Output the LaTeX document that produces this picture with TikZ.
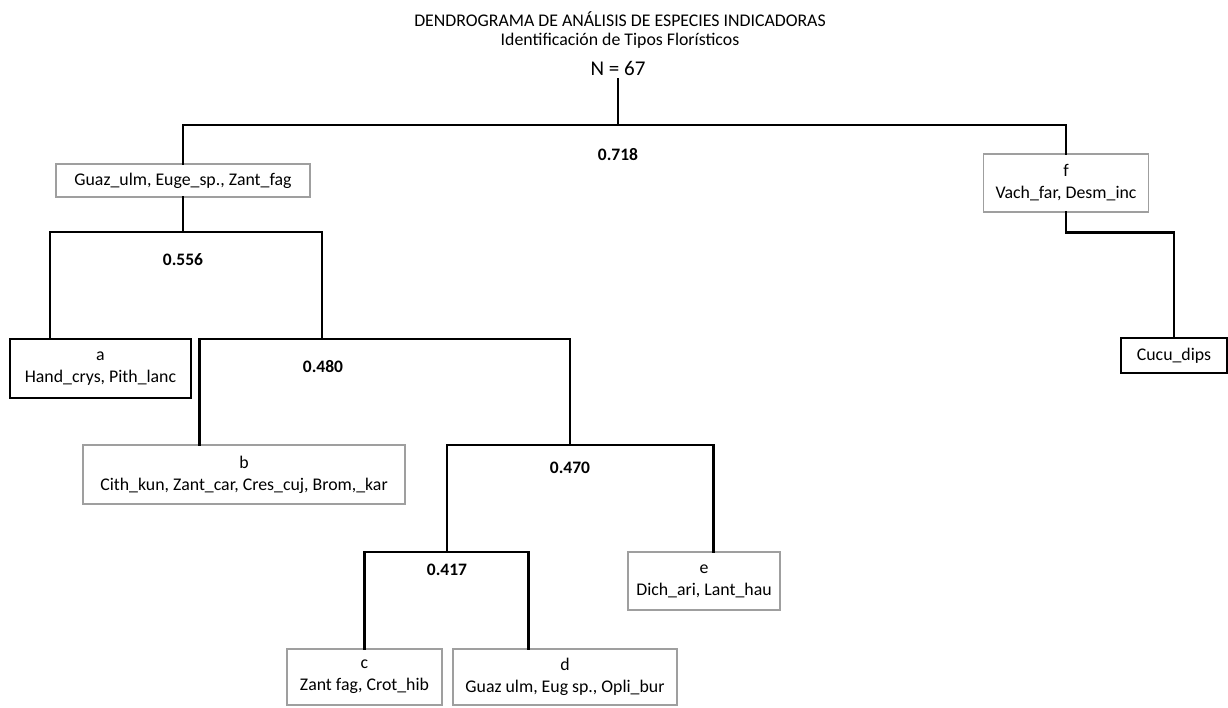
\documentclass[tikz,border=0pt]{standalone}
\usepackage{fontspec}
\setmainfont{Carlito}
\usetikzlibrary{positioning, calc}

\begin{document}
\begin{tikzpicture}[
    x=1pt, y=-1pt,
    box/.style={rectangle, draw=gray!75, line width=1.2pt, inner sep=0pt, align=center, font=\fontsize{17.8}{22}\selectfont},
    boldbox/.style={box, draw=black, line width=2.6pt},
    link/.style={line width=2.3pt, line cap=rect},
    level/.style={font=\fontsize{17.5}{17.5}\selectfont\bfseries}
]
    \useasboundingbox (0,0) rectangle (1228,708);

    % Title
    \node (t1) at (620,19) {\fontsize{17.8}{17.8}\selectfont DENDROGRAMA DE ANÁLISIS DE ESPECIES INDICADORAS};
    \node (t2) at (620,41) {\fontsize{17.8}{17.8}\selectfont Identificación de Tipos Florísticos};
    \node (n67) at (618,68) {\fontsize{21}{21}\selectfont N = 67};

    % Junctions
    \coordinate (j718) at (618,125);
    \coordinate (j556) at (183,232);
    \coordinate (j480) at (322,339);
    \coordinate (j470) at (570,445);
    \coordinate (j417) at (447,552);

    % Groups
    \node [box, minimum width=254pt, minimum height=33pt] (guaz) at (183,180.5) {Guaz\_ulm, Euge\_sp., Zant\_fag};
    \node [box, minimum width=165pt, minimum height=58pt] (f) at (1066,183) {f\\Vach\_far, Desm\_inc};
    \node [boldbox, minimum width=181pt, minimum height=59pt] (a) at (100.5,368.5) {a\\Hand\_crys, Pith\_lanc};
    \node [boldbox, minimum width=106pt, minimum height=35pt] (cucu) at (1174,355.5) {Cucu\_dips};
    \node [box, minimum width=322pt, minimum height=59pt] (b) at (244,474.5) {b\\Cith\_kun, Zant\_car, Cres\_cuj, Brom,\_kar};
    \node [box, minimum width=152pt, minimum height=58pt] (e) at (704,581) {e\\Dich\_ari, Lant\_hau};
    \node [box, minimum width=155pt, minimum height=56pt] (c) at (364.5,677) {c\\Zant fag, Crot\_hib};
    \node [box, minimum width=224pt, minimum height=56pt] (d) at (565,677) {d\\Guaz ulm, Eug sp., Opli\_bur};

    % Links
    \draw [link] (n67.south) -- (j718);
    \draw [link] (j718) -| (guaz.north);
    \draw [link] (j718) -| (f.north);
    \draw [link] (guaz.south) -- (j556);
    \draw [link] (j556) -| ([xshift=41pt]a.north west);
    \draw [link] (j556) -| (j480);
    \draw [link] (j480) -| ([xshift=117pt]b.north west);
    \draw [link] (j480) -| (j470);
    \draw [link] (j470) -| (j417);
    \draw [link] (j470) -| ([xshift=86pt]e.north west);
    \draw [link] (j417) -| (c.north);
    \draw [link] (j417) -| ([xshift=76pt]d.north west);
    \draw [link] (f.south) -- ++(0,20) -| (cucu.north);

    % Levels
    \node [level] at (618,155) {0.718};
    \node [level] at (183,260) {0.556};
    \node [level] at (323,367) {0.480};
    \node [level] at (570,468) {0.470};
    \node [level] at (447,570) {0.417};
\end{tikzpicture}
\end{document}
